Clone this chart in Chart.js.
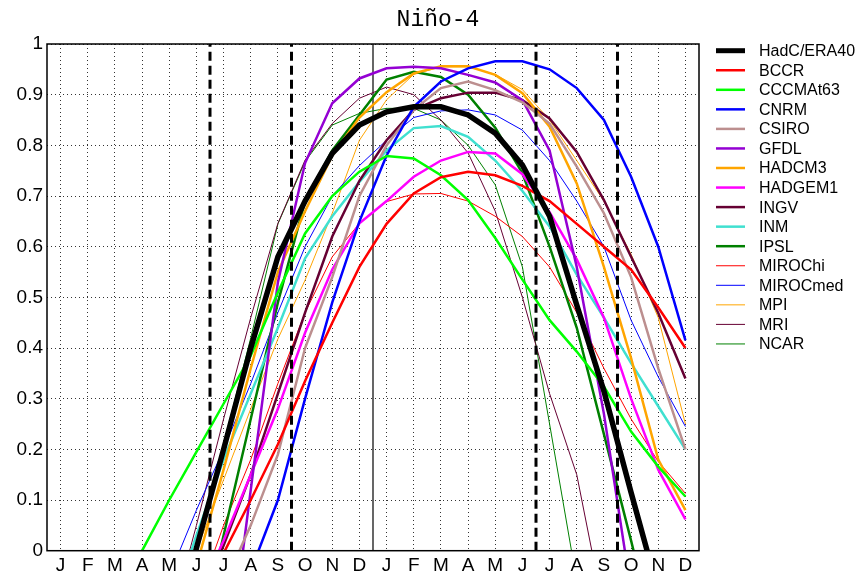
<!DOCTYPE html>
<html>
<head>
<meta charset="utf-8">
<script src="https://cdn.jsdelivr.net/npm/chart.js@4"></script>
<style>
  html, body { margin: 0; padding: 0; background: #fff; }
</style>
</head>
<body>
<canvas id="grafica" width="857" height="575"></canvas>
<script>
// meses (dos años) y marcas del eje y
var meses = ['J','F','M','A','M','J','J','A','S','O','N','D','J','F','M','A','M','J','J','A','S','O','N','D'];
var ticksY = [0, 0.1, 0.2, 0.3, 0.4, 0.5, 0.6, 0.7, 0.8, 0.9, 1];
var titulo = 'Niño-4';

// series (correlación por mes)
var hadc     = [-1.0,-0.8,-0.6,-0.4,-0.2,0.005,0.2,0.40,0.58,0.69,0.784,0.84,0.866,0.876,0.876,0.86,0.824,0.761,0.66,0.485,0.315,0.115,-0.08,-0.3];
var bccr     = [-0.6,-0.5,-0.4,-0.3,-0.2,-0.1,-0.005,0.10,0.21,0.335,0.45,0.56,0.645,0.705,0.737,0.748,0.741,0.72,0.69,0.645,0.60,0.555,0.48,0.40];
var cccma    = [-0.3,-0.2,-0.1,0.0,0.1,0.195,0.29,0.385,0.51,0.626,0.70,0.748,0.779,0.774,0.741,0.692,0.617,0.535,0.455,0.393,0.324,0.235,0.166,0.107];
var cnrm     = [-1.0,-0.9,-0.8,-0.6,-0.45,-0.3,-0.17,-0.04,0.10,0.30,0.49,0.65,0.78,0.876,0.926,0.952,0.966,0.966,0.95,0.913,0.85,0.738,0.60,0.415];
var csiro    = [-0.8,-0.7,-0.6,-0.5,-0.35,-0.2,-0.07,0.05,0.19,0.40,0.54,0.70,0.80,0.87,0.913,0.926,0.909,0.885,0.843,0.758,0.666,0.54,0.36,0.20];
var gfdl     = [-1.2,-1.1,-1.0,-0.9,-0.7,-0.5,-0.3,0.12,0.53,0.765,0.883,0.932,0.952,0.955,0.952,0.939,0.924,0.889,0.79,0.56,0.27,-0.08,-0.3,-0.5];
var hadcm3   = [-0.8,-0.6,-0.45,-0.35,-0.2,-0.03,0.16,0.36,0.55,0.67,0.78,0.855,0.905,0.942,0.956,0.956,0.939,0.903,0.837,0.725,0.56,0.38,0.18,0.08];
var hadgem1  = [-0.7,-0.6,-0.5,-0.4,-0.25,-0.1,0.02,0.15,0.28,0.43,0.555,0.646,0.69,0.738,0.77,0.787,0.784,0.743,0.668,0.575,0.46,0.30,0.16,0.062];
var ingv     = [-0.7,-0.6,-0.5,-0.4,-0.25,-0.12,0.01,0.15,0.31,0.47,0.62,0.73,0.81,0.87,0.893,0.904,0.904,0.889,0.853,0.787,0.692,0.58,0.469,0.34];
var inm      = [-0.6,-0.5,-0.4,-0.3,-0.13,0.03,0.18,0.31,0.44,0.577,0.66,0.728,0.79,0.834,0.838,0.817,0.77,0.71,0.64,0.545,0.46,0.37,0.285,0.2];
var ipsl     = [-0.8,-0.7,-0.6,-0.5,-0.35,-0.2,0.03,0.26,0.49,0.69,0.79,0.86,0.93,0.945,0.935,0.90,0.835,0.745,0.60,0.44,0.23,0.02,-0.2,-0.4];
var mirochi  = [-0.6,-0.5,-0.4,-0.3,-0.2,-0.1,0.05,0.18,0.33,0.47,0.58,0.646,0.689,0.704,0.705,0.69,0.66,0.62,0.56,0.47,0.36,0.26,0.176,0.113];
var mirocmed = [-0.5,-0.4,-0.3,-0.2,-0.05,0.08,0.20,0.33,0.47,0.60,0.70,0.76,0.81,0.855,0.868,0.87,0.86,0.83,0.77,0.69,0.60,0.455,0.343,0.245];
var mpi      = [-0.6,-0.5,-0.4,-0.3,-0.15,0.0,0.14,0.28,0.418,0.534,0.666,0.81,0.89,0.94,0.955,0.955,0.94,0.91,0.85,0.77,0.69,0.585,0.46,0.25];
var mri      = [-0.6,-0.45,-0.35,-0.25,-0.15,0.05,0.26,0.46,0.646,0.771,0.843,0.893,0.915,0.90,0.85,0.785,0.67,0.50,0.31,0.15,-0.12,-0.4,-0.6,-0.8];
var ncar     = [-0.8,-0.6,-0.4,-0.3,-0.2,0.01,0.21,0.42,0.645,0.768,0.84,0.863,0.873,0.873,0.85,0.80,0.722,0.56,0.25,-0.06,-0.3,-0.5,-0.7,-0.9];

// lineas verticales de referencia (posicion en meses)
var cortes = [5.5, 8.5, 17.5, 20.5];
var cambioAnio = 11.5;

function puntos(valores){
  return valores.map(function(v, i){ return {x: i, y: v}; });
}

function serie(nombre, valores, color, ancho){
  return {
    label: nombre,
    data: puntos(valores),
    borderColor: color,
    backgroundColor: color,
    borderWidth: ancho,
    pointRadius: 0,
    tension: 0,
    clip: 0,
    order: 0
  };
}

function vertical(x, color, ancho, guiones, orden){
  return {
    data: [{x: x, y: 0}, {x: x, y: 1}],
    borderColor: color,
    borderWidth: ancho,
    borderDash: guiones,
    pointRadius: 0,
    clip: 0,
    order: orden
  };
}

var datasets = [
  serie('HadC/ERA40', hadc, '#000000', 5.5),
  serie('BCCR', bccr, '#ff0000', 2.5),
  serie('CCCMAt63', cccma, '#00ff00', 2.5),
  serie('CNRM', cnrm, '#0000ff', 2.5),
  serie('CSIRO', csiro, '#bc8f8f', 2.5),
  serie('GFDL', gfdl, '#9400d3', 2.5),
  serie('HADCM3', hadcm3, '#ffa500', 2.5),
  serie('HADGEM1', hadgem1, '#ff00ff', 2.5),
  serie('INGV', ingv, '#660033', 2.5),
  serie('INM', inm, '#40e0d0', 2.5),
  serie('IPSL', ipsl, '#008000', 2.5),
  serie('MIROChi', mirochi, '#ff0000', 1),
  serie('MIROCmed', mirocmed, '#0000ff', 1),
  serie('MPI', mpi, '#ffa500', 1),
  serie('MRI', mri, '#660033', 1),
  serie('NCAR', ncar, '#008000', 1)
];
cortes.forEach(function(x){ datasets.push(vertical(x, '#000', 3, [9, 5], -1)); });
datasets.push(vertical(cambioAnio, '#000', 1.2, [], 1));

// marco, titulo y leyenda
var decorado = {
  id: 'decorado',
  afterDatasetsDraw: function(chart){
    var a = chart.chartArea, ctx = chart.ctx;
    ctx.save();
    ctx.strokeStyle = '#000';
    ctx.lineWidth = 1.5;
    ctx.strokeRect(a.left, a.top, a.right - a.left, a.bottom - a.top);
    ctx.restore();
  },
  afterDraw: function(chart){
    var ctx = chart.ctx;
    ctx.save();
    ctx.fillStyle = '#000';
    ctx.font = '23px "Liberation Mono", monospace';
    ctx.textAlign = 'center';
    ctx.textBaseline = 'alphabetic';
    ctx.fillText(titulo, 438, 26);

    ctx.font = '16px "Liberation Sans", Arial, sans-serif';
    ctx.textAlign = 'left';
    ctx.textBaseline = 'middle';
    var n = 0;
    chart.data.datasets.forEach(function(ds){
      if (!ds.label) return;
      var y = 50.7 + n * 19.55;
      ctx.strokeStyle = ds.borderColor;
      ctx.lineWidth = Math.min(ds.borderWidth, 5);
      ctx.beginPath();
      ctx.moveTo(716, y);
      ctx.lineTo(745, y);
      ctx.stroke();
      ctx.fillText(ds.label, 759, y + 1);
      n++;
    });
    ctx.restore();
  }
};

var grafica = new Chart(document.getElementById('grafica'), {
  type: 'line',
  data: { datasets: datasets },
  plugins: [decorado],
  options: {
    responsive: false,
    animation: false,
    layout: { padding: { top: 44, right: 158, bottom: 0, left: 0 } },
    plugins: { legend: { display: false }, tooltip: { enabled: false }, title: { display: false } },
    scales: {
      x: {
        type: 'linear',
        min: -0.5,
        max: 23.5,
        afterBuildTicks: function(s){ s.ticks = meses.map(function(m, i){ return {value: i}; }); },
        afterFit: function(s){ s.height = 24.3; },
        ticks: {
          autoSkip: false,
          maxRotation: 0,
          padding: 3.5,
          color: '#000',
          font: { family: '"Liberation Sans", Arial, sans-serif', size: 19 },
          callback: function(v){ return meses[v]; }
        },
        grid: { color: 'rgba(0,0,0,0.8)', lineWidth: 1, drawTicks: false },
        border: { display: false, dash: [1, 3] }
      },
      y: {
        min: 0,
        max: 1,
        afterBuildTicks: function(s){ s.ticks = ticksY.map(function(v){ return {value: v}; }); },
        afterFit: function(s){ s.width = 47; },
        ticks: {
          padding: 4,
          color: '#000',
          font: { family: '"Liberation Sans", Arial, sans-serif', size: 19 },
          callback: function(v){ return String(+v.toFixed(1)); }
        },
        grid: { color: 'rgba(0,0,0,0.8)', lineWidth: 1, drawTicks: false },
        border: { display: false, dash: [1, 3] }
      }
    }
  }
});
</script>
</body>
</html>
